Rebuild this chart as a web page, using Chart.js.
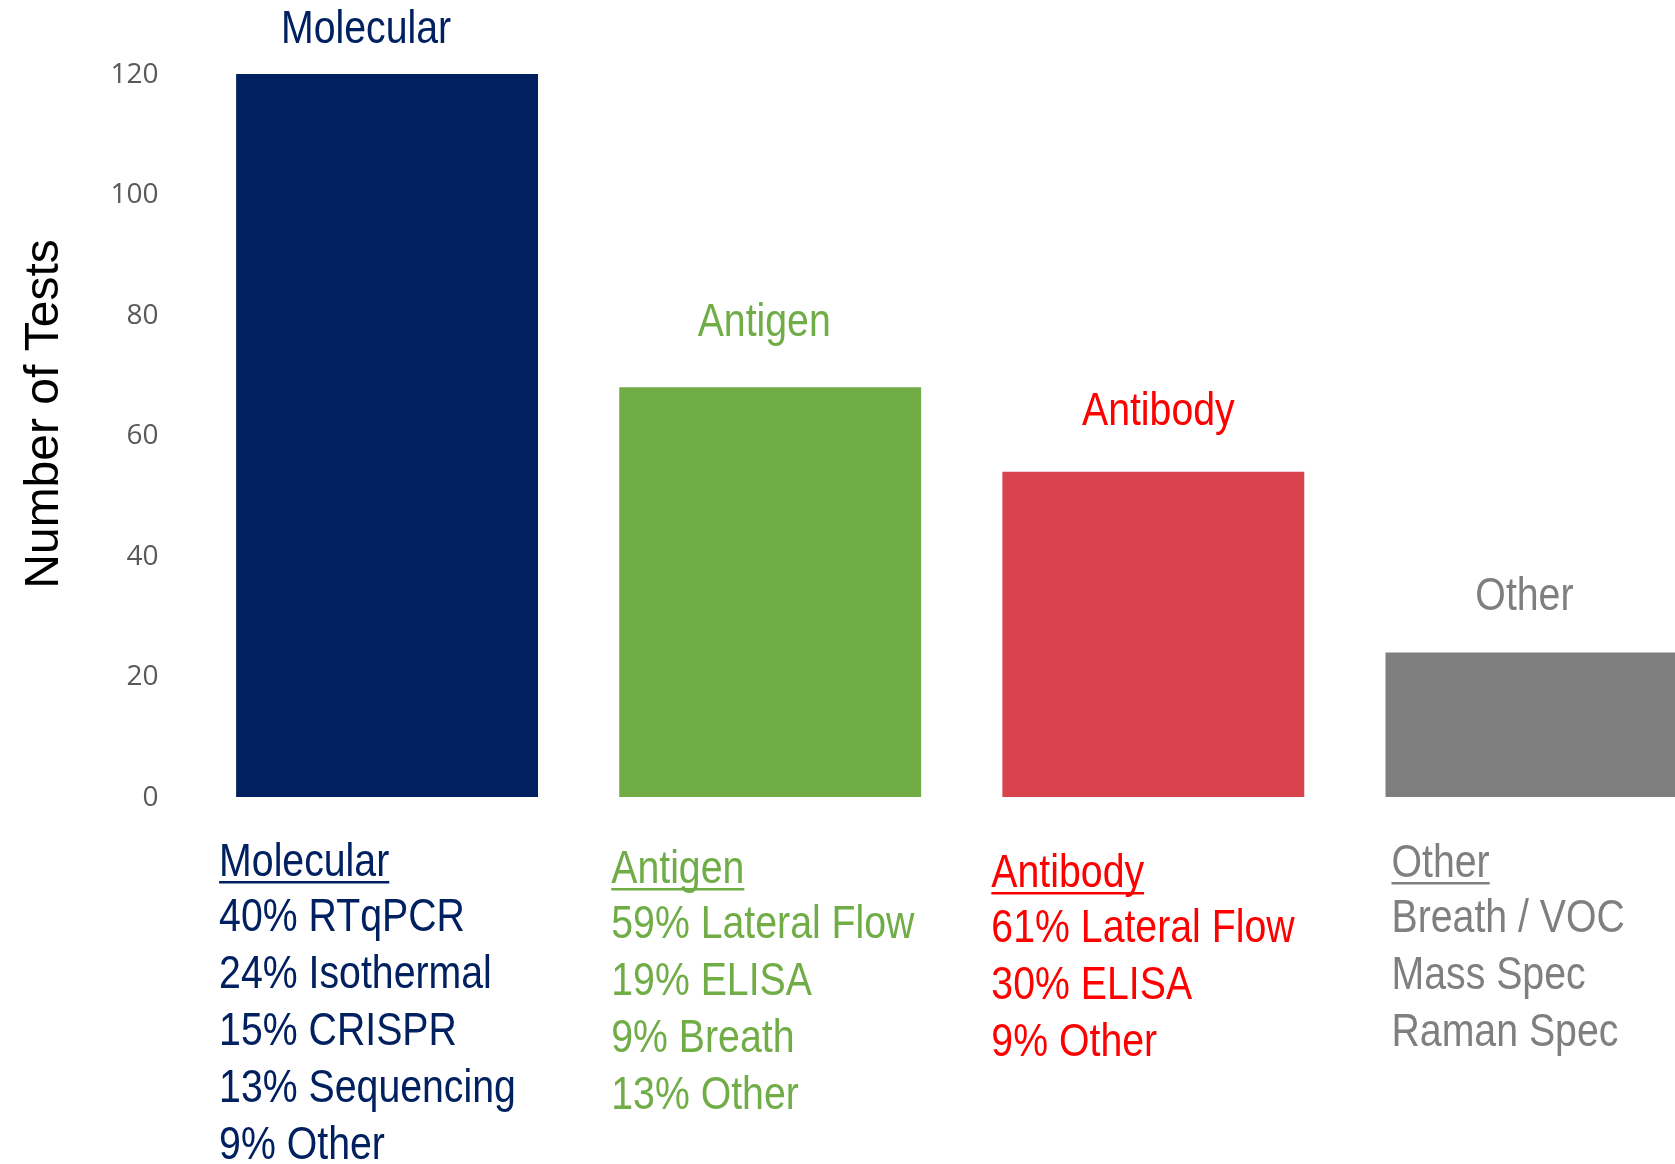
<!DOCTYPE html>
<html><head><meta charset="utf-8">
<script src="https://cdn.jsdelivr.net/npm/chart.js@4.4.1/dist/chart.umd.min.js"></script>
<style>
html,body{margin:0;padding:0;overflow:hidden;background:#fff;width:1675px;height:1164px;}
#wrap{position:absolute;left:0;top:0;width:1728px;height:1164px;}
</style></head><body>
<div id="wrap"><canvas id="c"></canvas></div>
<script>
const categories = ['Molecular', 'Antigen', 'Antibody', 'Other'];
const testCounts = [120, 68, 54, 24];
const yTicks = [0, 20, 40, 60, 80, 100, 120];
const yAxisTitle = 'Number of Tests';
const breakdownMolecular = ['40% RTqPCR', '24% Isothermal', '15% CRISPR', '13% Sequencing', '9% Other'];
const breakdownAntigen = ['59% Lateral Flow', '19% ELISA', '9% Breath', '13% Other'];
const breakdownAntibody = ['61% Lateral Flow', '30% ELISA', '9% Other'];
const breakdownOther = ['Breath / VOC', 'Mass Spec', 'Raman Spec'];
const breakdowns = [breakdownMolecular, breakdownAntigen, breakdownAntibody, breakdownOther];

const barColors = ['#002060', '#70AD47', '#D9434D', '#7F7F7F'];
const textColors = ['#002060', '#70AD47', '#FF0000', '#7F7F7F'];

const style = {
  narrow: 0.835,
  labelFont: '47px "Liberation Sans", Arial, sans-serif',
  topLabelDx: [-21, -6, 5, -12],
  topLabelDy: [-31, -51, -47, -42],
  blockDx: [-17, -8, -11, 6],
  blockHeaderY: [876, 883, 887, 877],
  headerGap: 55,
  lineStep: 57
};

function narrowText(ctx, text, x, y, align) {
  ctx.save();
  ctx.translate(x, y);
  ctx.scale(style.narrow, 1);
  ctx.textAlign = align;
  ctx.textBaseline = 'alphabetic';
  ctx.fillText(text, 0, 0);
  ctx.restore();
}

const annotate = {
  id: 'annotate',
  afterDraw(chart) {
    const ctx = chart.ctx;
    const meta = chart.getDatasetMeta(0);
    ctx.save();
    ctx.font = style.labelFont;
    meta.data.forEach((bar, i) => {
      const left = bar.x - bar.width / 2;
      ctx.fillStyle = textColors[i];
      narrowText(ctx, categories[i], bar.x + style.topLabelDx[i], bar.y + style.topLabelDy[i], 'center');
      const bx = left + style.blockDx[i];
      const hy = style.blockHeaderY[i];
      narrowText(ctx, categories[i], bx, hy, 'left');
      const w = ctx.measureText(categories[i]).width * style.narrow;
      ctx.fillRect(bx, hy + 5, w, 2.5);
      breakdowns[i].forEach((t, k) => {
        narrowText(ctx, t, bx, hy + style.headerGap + k * style.lineStep, 'left');
      });
    });
    ctx.save();
    ctx.fillStyle = '#000000';
    ctx.font = '48px "Liberation Sans", Arial, sans-serif';
    ctx.translate(58, 414);
    ctx.rotate(-Math.PI / 2);
    ctx.textAlign = 'center';
    ctx.textBaseline = 'alphabetic';
    ctx.fillText(yAxisTitle, 0, 0);
    ctx.restore();
    ctx.restore();
  }
};

new Chart(document.getElementById('c'), {
  type: 'bar',
  data: {
    labels: categories,
    datasets: [{
      data: testCounts,
      backgroundColor: barColors,
      borderWidth: 0,
      barPercentage: 0.788,
      categoryPercentage: 1.0
    }]
  },
  options: {
    responsive: true,
    maintainAspectRatio: false,
    animation: false,
    layout: { padding: { left: 0, right: 0, top: 74, bottom: 367 } },
    plugins: { legend: { display: false }, tooltip: { enabled: false } },
    scales: {
      x: { display: false, grid: { display: false } },
      y: {
        min: 0, max: 120,
        afterBuildTicks: (s) => { s.ticks = yTicks.map(v => ({ value: v })); },
        afterFit: (s) => { s.width = 195.5; },
        grid: { display: false, drawTicks: false },
        border: { display: false },
        ticks: {
          padding: 37,
          labelOffset: 1,
          color: '#595959',
          font: { family: '"Open Sans", sans-serif', size: 28 }
        }
      }
    }
  },
  plugins: [annotate]
});
</script>
</body></html>
